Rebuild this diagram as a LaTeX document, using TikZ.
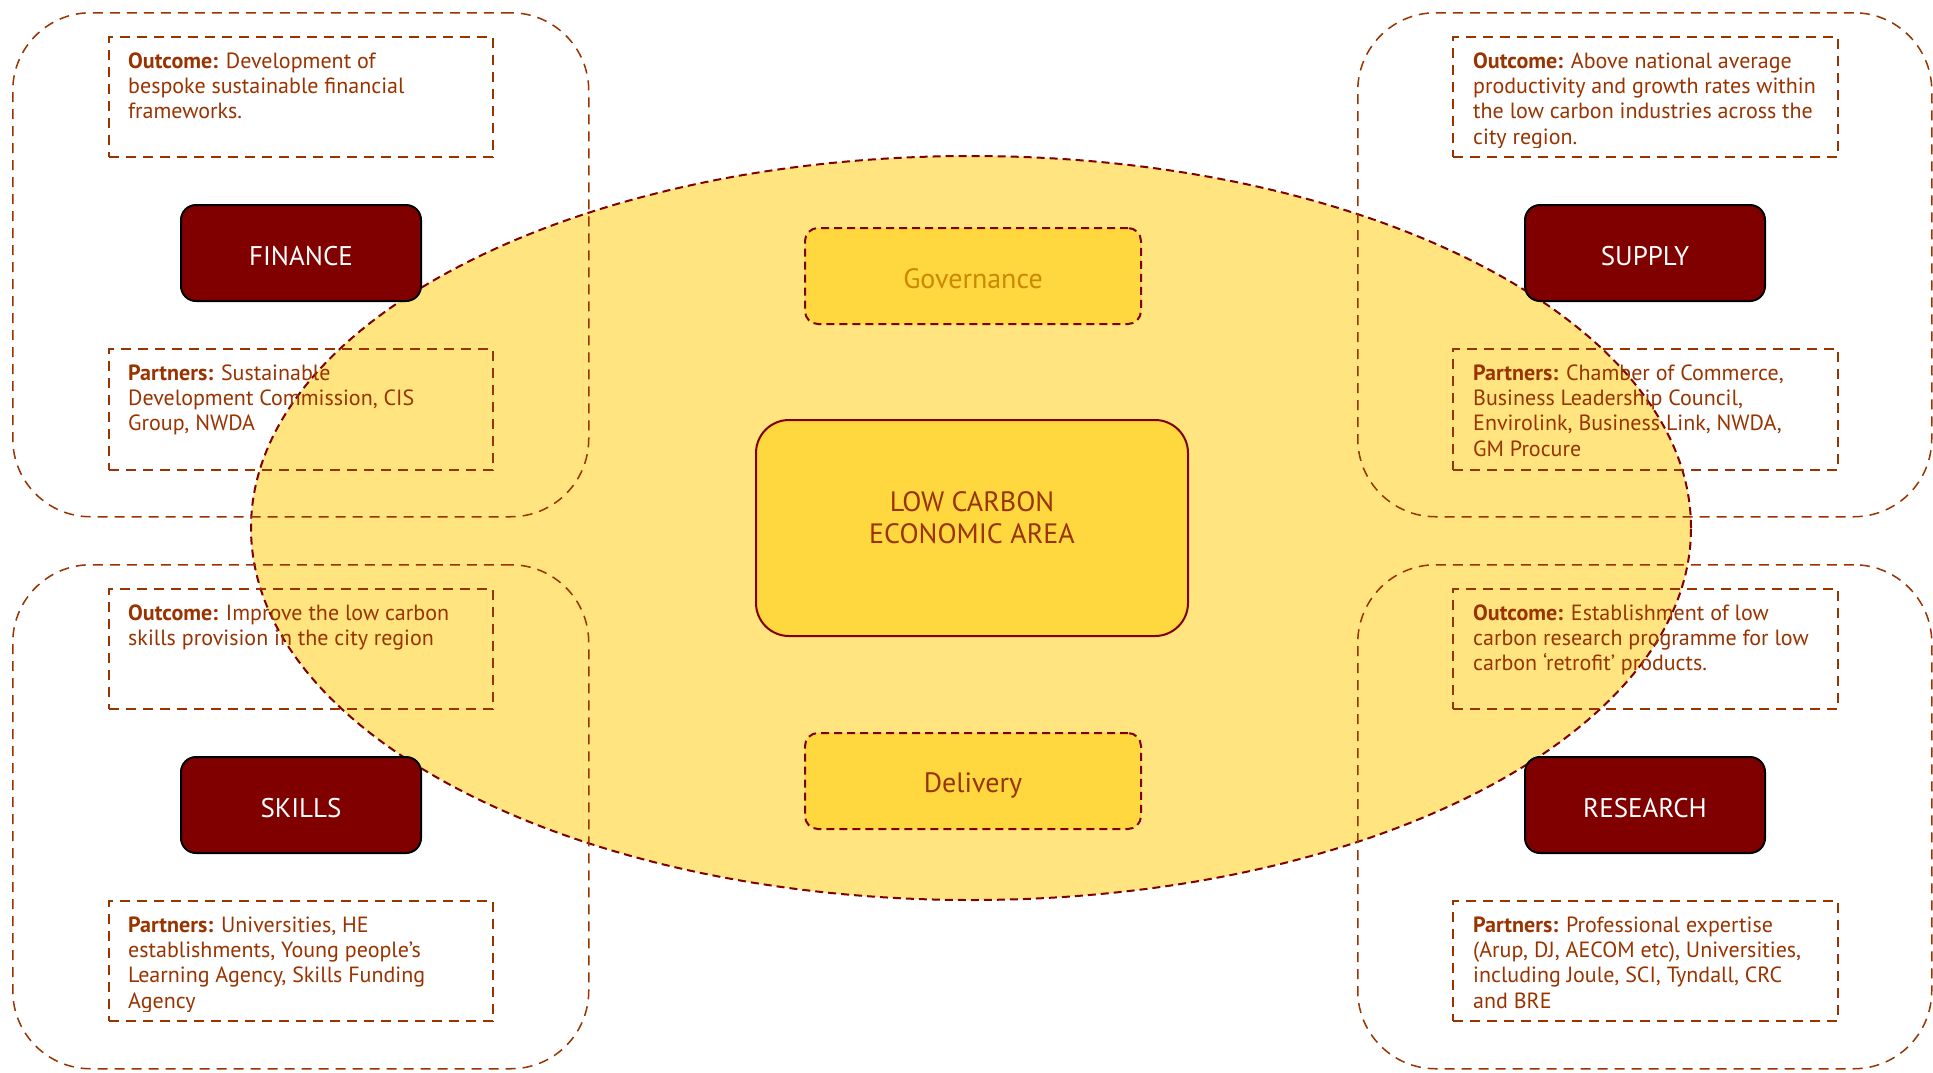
\documentclass[tikz,border=0pt]{standalone}
\usepackage{fontspec}
\setmainfont{PT Sans}
\usetikzlibrary{shapes.geometric}
\definecolor{txtbrown}{RGB}{153,51,0}
\definecolor{darkred}{RGB}{128,0,0}
\definecolor{ellfill}{RGB}{255,228,128}
\definecolor{boxfill}{RGB}{255,216,64}
\definecolor{govtxt}{RGB}{204,136,0}
\begin{document}
\begin{tikzpicture}[x=1pt,y=-1pt,
  frame/.style={draw=txtbrown, line width=1.5pt, dash pattern=on 10pt off 7pt,
    rounded corners=78pt, inner sep=0pt, anchor=north west,
    minimum width=576pt, minimum height=504pt},
  textframe/.style={draw=txtbrown, line width=2pt, dash pattern=on 10pt off 7pt,
    inner sep=0pt, anchor=north west, minimum width=384pt, minimum height=120pt},
  labelbox/.style={draw=black, fill=darkred, line width=2pt, rounded corners=15pt,
    minimum width=240pt, minimum height=96pt, anchor=north west, inner sep=0pt},
  labeltext/.style={text=white, font=\fontsize{27}{32}\selectfont, inner sep=0pt},
  bodytext/.style={anchor=north west, inner sep=0pt, align=left, text=txtbrown,
    font=\fontsize{22}{25.3}\selectfont},
  yellowbox/.style={draw=darkred, fill=boxfill, line width=2pt,
    dash pattern=on 8pt off 5pt, rounded corners=13pt, inner sep=0pt,
    anchor=north west, minimum width=336pt, minimum height=96pt},
  yellowtext/.style={font=\fontsize{28}{33}\selectfont, inner sep=0pt}
]
\useasboundingbox (0,0) rectangle (1933,1072);
\fill[white] (0,0) rectangle (1933,1072);

% central ellipse
\node[ellipse, draw=darkred, fill=ellfill, line width=2pt, dash pattern=on 8pt off 5pt,
  minimum width=1440pt, minimum height=744pt, inner sep=0pt] (ell) at (971,528) {};

% outer frames
\node[frame] (tlf) at (12,12) {};
\node[frame, minimum width=574pt] (trf) at (1357,12) {};
\node[frame] (blf) at (12,564) {};
\node[frame, minimum width=574pt] (brf) at (1357,564) {};

% text frames
\node[textframe] (tlo) at (108,36) {};
\node[textframe, minimum height=121pt] (tlp) at (108,348) {};
\node[textframe, minimum width=385pt] (tro) at (1452,36) {};
\node[textframe, minimum width=385pt, minimum height=121pt] (trp) at (1452,348) {};
\node[textframe] (blo) at (108,588) {};
\node[textframe] (blp) at (108,900) {};
\node[textframe, minimum width=385pt] (bro) at (1452,588) {};
\node[textframe, minimum width=385pt] (brp) at (1452,900) {};

% label boxes
\node[labelbox] (fin) at (180,204) {};
\node[labeltext] (fint) at ([yshift=-3pt]fin.center) {FINANCE};
\node[labelbox] (sup) at (1524,204) {};
\node[labeltext] (supt) at ([yshift=-3pt]sup.center) {SUPPLY};
\node[labelbox] (ski) at (180,756) {};
\node[labeltext] (skit) at ([yshift=-3pt]ski.center) {SKILLS};
\node[labelbox] (res) at (1524,756) {};
\node[labeltext] (rest) at ([yshift=-3pt]res.center) {RESEARCH};

% governance, delivery, core
\node[yellowbox] (gov) at (804,227) {};
\node[yellowtext, text=govtxt] (govt) at ([yshift=-3pt]gov.center) {Governance};
\node[yellowbox] (del) at (804,732) {};
\node[yellowtext, text=txtbrown] (delt) at ([yshift=-4pt]del.center) {Delivery};
\node[draw=darkred, fill=boxfill, line width=2pt, rounded corners=33pt, inner sep=0pt,
  minimum width=432pt, minimum height=216pt] (core) at (972,528) {};
\node[align=center, text=txtbrown, font=\fontsize{28}{31.6}\selectfont, inner sep=0pt]
  (coretext) at (972,517.5) {LOW CARBON\\ECONOMIC AREA};

% texts
\begin{scope}
\clip (tlo.north west) rectangle ([yshift=11pt]tlo.south east);
\node[bodytext] (tlot) at ([xshift=20pt,yshift=-15pt]tlo.north west)
 {\rule{0pt}{17pt}\textbf{Outcome:} Development of\\bespoke sustainable financial\\frameworks.};
\end{scope}
\begin{scope}
\clip (tlp.north west) rectangle ([yshift=11pt]tlp.south east);
\node[bodytext] (tlpt) at ([xshift=20pt,yshift=-15pt]tlp.north west)
 {\rule{0pt}{17pt}\textbf{Partners:} Sustainable\\Development Commission, CIS\\Group, NWDA};
\end{scope}
\begin{scope}
\clip (tro.north west) rectangle ([yshift=11pt]tro.south east);
\node[bodytext] (trot) at ([xshift=21pt,yshift=-15pt]tro.north west)
 {\rule{0pt}{17pt}\textbf{Outcome:} Above national average\\productivity and growth rates within\\the low carbon industries across the\\city region.};
\end{scope}
\begin{scope}
\clip (trp.north west) rectangle ([yshift=11pt]trp.south east);
\node[bodytext] (trpt) at ([xshift=21pt,yshift=-15pt]trp.north west)
 {\rule{0pt}{17pt}\textbf{Partners:} Chamber of Commerce,\\Business Leadership Council,\\Envirolink, Business Link, NWDA,\\GM Procure};
\end{scope}
\begin{scope}
\clip (blo.north west) rectangle ([yshift=11pt]blo.south east);
\node[bodytext] (blot) at ([xshift=20pt,yshift=-15pt]blo.north west)
 {\rule{0pt}{17pt}\textbf{Outcome:} Improve the low carbon\\skills provision in the city region};
\end{scope}
\begin{scope}
\clip (blp.north west) rectangle ([yshift=11pt]blp.south east);
\node[bodytext] (blpt) at ([xshift=20pt,yshift=-15pt]blp.north west)
 {\rule{0pt}{17pt}\textbf{Partners:} Universities, HE\\establishments, Young people’s\\Learning Agency, Skills Funding\\Agency};
\end{scope}
\begin{scope}
\clip (bro.north west) rectangle ([yshift=11pt]bro.south east);
\node[bodytext] (brot) at ([xshift=21pt,yshift=-15pt]bro.north west)
 {\rule{0pt}{17pt}\textbf{Outcome:} Establishment of low\\carbon research programme for low\\carbon ‘retrofit’ products.};
\end{scope}
\begin{scope}
\clip (brp.north west) rectangle ([yshift=11pt]brp.south east);
\node[bodytext] (brpt) at ([xshift=21pt,yshift=-15pt]brp.north west)
 {\rule{0pt}{17pt}\textbf{Partners:} Professional expertise\\(Arup, DJ, AECOM etc), Universities,\\including Joule, SCI, Tyndall, CRC\\and BRE};
\end{scope}
\end{tikzpicture}
\end{document}
